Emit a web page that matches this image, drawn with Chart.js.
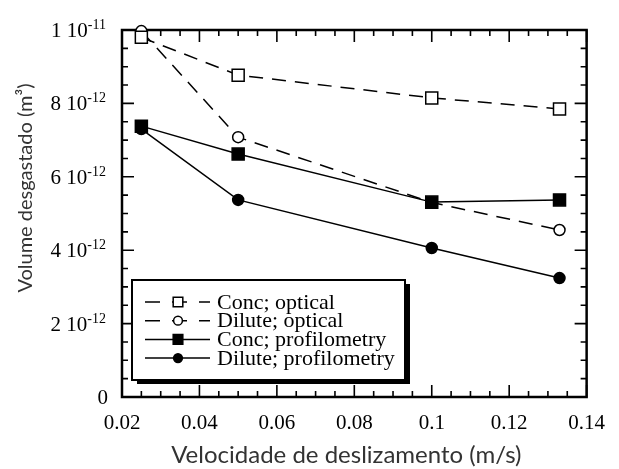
<!DOCTYPE html>
<html lang="pt">
<head>
<meta charset="UTF-8">
<title>Volume desgastado vs velocidade de deslizamento</title>
<script src="https://cdn.jsdelivr.net/npm/chart.js"></script>
<style>
  body { margin: 0; background: #fff; }
  #wrap { width: 619px; height: 469px; }
</style>
</head>
<body>
<div id="wrap"><canvas id="wearChart" width="619" height="469"></canvas></div>
<script>
// sliding speed (m/s) and worn volume (m^3) for each measurement series
const velocity = [0.025, 0.05, 0.1, 0.133];
const concOptical = [9.8e-12, 8.77e-12, 8.15e-12, 7.85e-12];
const diluteOptical = [9.97e-12, 7.08e-12, 5.3e-12, 4.55e-12];
const concProfilometry = [7.38e-12, 6.62e-12, 5.31e-12, 5.37e-12];
const diluteProfilometry = [7.3e-12, 5.37e-12, 4.06e-12, 3.24e-12];

const seriesLabels = ['Conc; optical', 'Dilute; optical', 'Conc; profilometry', 'Dilute; profilometry'];

const xTicks = [0.02, 0.04, 0.06, 0.08, 0.1, 0.12, 0.14];
const xTickLabels = ['0.02', '0.04', '0.06', '0.08', '0.1', '0.12', '0.14'];
const yTicks = [0, 2e-12, 4e-12, 6e-12, 8e-12, 1e-11];
// mantissa and power of ten, "^" marks the exponent
const yTickLabels = ['0', '2 10^-12', '4 10^-12', '6 10^-12', '8 10^-12', '1 10^-11'];

const xTitle = 'Velocidade de deslizamento (m/s)';
const yTitle = 'Volume desgastado (m³)';

const X_MINOR = 0.005;
const Y_MINOR = 0.5e-12;
const SERIF = '"Liberation Serif", "Times New Roman", serif';
const SANS = 'Lato, "Open Sans", sans-serif';

function points(ys) {
    return velocity.map((v, i) => ({ x: v, y: ys[i] }));
}

// frame with inward ticks on all four sides
const framePlugin = {
    id: 'frame',
    beforeDatasetsDraw(chart) {
        const { ctx, chartArea: a, scales: { x, y } } = chart;
        ctx.save();
        ctx.strokeStyle = '#000';
        ctx.lineWidth = 1.6;
        ctx.beginPath();
        const nx = Math.round((x.max - x.min) / X_MINOR);
        for (let i = 0; i <= nx; i++) {
            const px = x.getPixelForValue(x.min + i * X_MINOR);
            const len = i % 4 === 0 ? 12 : 6;
            ctx.moveTo(px, a.bottom); ctx.lineTo(px, a.bottom - len);
            ctx.moveTo(px, a.top); ctx.lineTo(px, a.top + len);
        }
        const ny = Math.round((y.max - y.min) / Y_MINOR);
        for (let i = 0; i <= ny; i++) {
            const py = y.getPixelForValue(y.min + i * Y_MINOR);
            const len = i % 4 === 0 ? 12 : 6;
            ctx.moveTo(a.left, py); ctx.lineTo(a.left + len, py);
            ctx.moveTo(a.right, py); ctx.lineTo(a.right - len, py);
        }
        ctx.stroke();
        ctx.lineWidth = 2.5;
        ctx.strokeRect(a.left, a.top, a.right - a.left, a.bottom - a.top);
        ctx.restore();
    }
};

// y tick labels with a raised exponent, plus both axis titles
const axisText = {
    id: 'axisText',
    afterDraw(chart) {
        const { ctx, chartArea: a, scales: { y } } = chart;
        ctx.save();
        ctx.fillStyle = '#000';
        ctx.textBaseline = 'alphabetic';
        ctx.textAlign = 'right';
        yTicks.forEach((v, i) => {
            const [base, exp] = yTickLabels[i].split('^');
            const py = y.getPixelForValue(v);
            const right = a.left - 16;
            if (exp) {
                ctx.font = '14px ' + SERIF;
                const ew = ctx.measureText(exp).width;
                ctx.fillText(exp, right, py - 1);
                ctx.font = '21px ' + SERIF;
                ctx.fillText(base, right - ew, py + 7);
            } else {
                ctx.font = '21px ' + SERIF;
                ctx.fillText(base, right + 2, py + 7);
            }
        });

        ctx.fillStyle = '#333';
        ctx.textAlign = 'center';
        ctx.textBaseline = 'middle';
        ctx.font = '24px ' + SANS;
        ctx.fillText(xTitle, (a.left + a.right) / 2 - 8, 455);
        ctx.font = '20px ' + SANS;
        ctx.translate(26, 188);
        ctx.rotate(-Math.PI / 2);
        ctx.fillText(yTitle, 0, 0);
        ctx.restore();
    }
};

// boxed legend with a drop shadow, inside the plot
const boxLegend = {
    id: 'boxLegend',
    afterDraw(chart) {
        const { ctx, chartArea: a } = chart;
        const left = a.left + 10, top = a.bottom - 117;
        const w = 273, h = 100;
        ctx.save();
        ctx.fillStyle = '#000';
        ctx.fillRect(left + 5, top + 4, w, h);
        ctx.fillStyle = '#fff';
        ctx.fillRect(left, top, w, h);
        ctx.strokeStyle = '#000';
        ctx.lineWidth = 2;
        ctx.strokeRect(left, top, w, h);

        ctx.font = '22px ' + SERIF;
        ctx.textBaseline = 'middle';
        chart.data.datasets.forEach((ds, i) => {
            const cy = top + 22 + i * 18.7;
            ctx.strokeStyle = '#000';
            ctx.lineWidth = 1.5;
            ctx.setLineDash(ds.borderDash.length ? [15, 12] : []);
            ctx.beginPath();
            ctx.moveTo(left + 13, cy);
            ctx.lineTo(left + 78, cy);
            ctx.stroke();
            ctx.setLineDash([]);
            ctx.fillStyle = ds.pointBackgroundColor;
            ctx.lineWidth = ds.pointBorderWidth;
            Chart.helpers.drawPoint(ctx, {
                pointStyle: ds.pointStyle,
                radius: ds.pointRadius * 0.8,
                borderWidth: ds.pointBorderWidth,
                rotation: 0
            }, left + 46, cy);
            ctx.fillStyle = '#000';
            ctx.fillText(ds.label, left + 85, cy + 1);
        });
        ctx.restore();
    }
};

function series(label, ys, style, filled, dashed, order) {
    return {
        label: label,
        data: points(ys),
        borderColor: '#000',
        borderWidth: 1.5,
        borderDash: dashed ? [14, 9] : [],
        pointStyle: style,
        pointRadius: style === 'rect' ? 8.5 : 5.5,
        pointBorderWidth: 1.5,
        pointBorderColor: '#000',
        pointBackgroundColor: filled ? '#000' : '#fff',
        tension: 0,
        clip: false,
        order: order
    };
}

new Chart(document.getElementById('wearChart'), {
    type: 'line',
    data: {
        datasets: [
            series(seriesLabels[0], concOptical, 'rect', false, true, 2),
            series(seriesLabels[1], diluteOptical, 'circle', false, true, 3),
            series(seriesLabels[2], concProfilometry, 'rect', true, false, 0),
            series(seriesLabels[3], diluteProfilometry, 'circle', true, false, 1)
        ]
    },
    options: {
        responsive: false,
        animation: false,
        layout: { padding: { top: 30, right: 21, left: 0, bottom: 0 } },
        plugins: { legend: { display: false }, tooltip: { enabled: false } },
        scales: {
            x: {
                type: 'linear',
                min: 0.02,
                max: 0.14,
                grid: { display: false, drawTicks: false },
                border: { display: false },
                afterBuildTicks: s => { s.ticks = xTicks.map(v => ({ value: v })); },
                afterFit: s => { s.height = 72; },
                ticks: {
                    callback: (v, i) => xTickLabels[i],
                    font: { family: SERIF, size: 21 },
                    color: '#000',
                    padding: 14,
                    maxRotation: 0
                }
            },
            y: {
                type: 'linear',
                min: 0,
                max: 1e-11,
                grid: { display: false, drawTicks: false },
                border: { display: false },
                afterBuildTicks: s => { s.ticks = yTicks.map(v => ({ value: v })); },
                afterFit: s => { s.width = 122; },
                ticks: { display: false }
            }
        }
    },
    plugins: [framePlugin, axisText, boxLegend]
});
</script>
</body>
</html>
